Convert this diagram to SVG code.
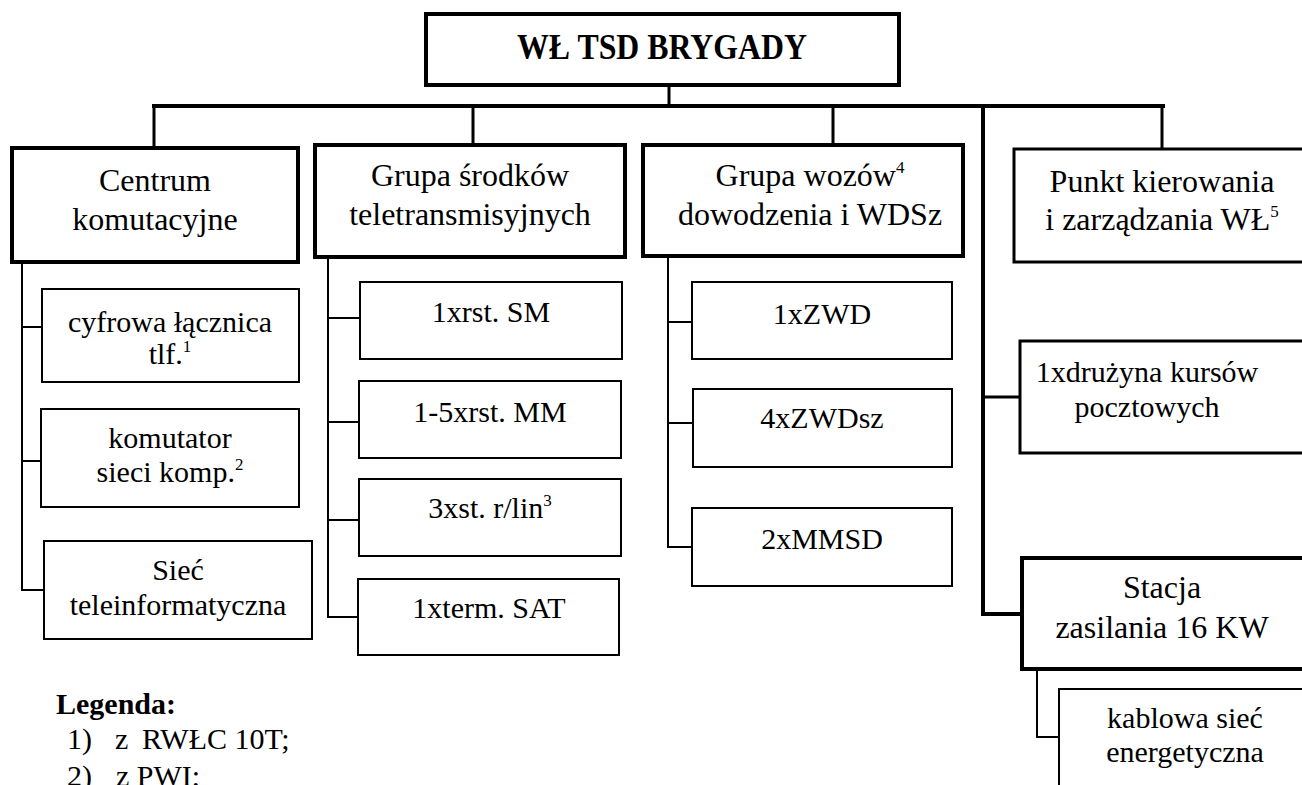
<svg xmlns="http://www.w3.org/2000/svg" width="1302" height="785" viewBox="0 0 1302 785">
<style>
text { font-family: "Liberation Serif", "DejaVu Serif", "Noto Serif", serif; fill: #000; text-anchor: middle; }
.t1 { font-size: 32px; }
.t2 { font-size: 30px; }
.title { font-size: 35px; font-weight: bold; }
.sup { font-size: 17px; }
.leg { text-anchor: start; font-size: 30px; }
.legh { text-anchor: start; font-size: 30px; font-weight: bold; }
.thick { fill: #fff; stroke: #000; stroke-width: 4; }
.mid { fill: #fff; stroke: #000; stroke-width: 3; }
.thin { fill: #fff; stroke: #000; stroke-width: 2; }
</style>
<rect width="1302" height="785" fill="#fff"/>

<g id="connectors" fill="none" stroke="#000" stroke-linecap="square">
  <line x1="669" y1="85" x2="669" y2="106" stroke-width="3"/>
  <line x1="154" y1="106" x2="1163" y2="106" stroke-width="4"/>
  <line x1="154" y1="106" x2="154" y2="148" stroke-width="3"/>
  <line x1="473" y1="106" x2="473" y2="145" stroke-width="3"/>
  <line x1="833" y1="106" x2="833" y2="145" stroke-width="3"/>
  <line x1="1162" y1="106" x2="1162" y2="149" stroke-width="3"/>
  <path d="M983 106 V614 H1022" stroke-width="4"/>
  <line x1="983" y1="397" x2="1020" y2="397" stroke-width="3"/>
  <path d="M22 262 V590 H44 M22 327 H42 M22 461 H41" stroke-width="2"/>
  <path d="M328 257 V617 H358 M328 318 H360 M328 422 H359 M328 520 H359" stroke-width="2"/>
  <path d="M668 256 V547 H692 M668 322 H692 M668 423 H693" stroke-width="2"/>
  <path d="M1037 669 V737 H1059" stroke-width="2"/>
</g>

<g id="root">
  <rect class="thick" x="426" y="14" width="473" height="71"/>
  <text class="title" x="662" y="59" font-family="Liberation Serif, DejaVu Serif, serif" textLength="290" lengthAdjust="spacingAndGlyphs">WŁ TSD BRYGADY</text>
</g>

<g id="centrum">
  <rect class="thick" x="12" y="148" width="286" height="114"/>
  <text class="t1" x="155" y="191">Centrum</text>
  <text class="t1" x="155" y="230">komutacyjne</text>
</g>
<g id="grupa-srodkow">
  <rect class="thick" x="315" y="145" width="310" height="112"/>
  <text class="t1" x="470" y="186">Grupa środków</text>
  <text class="t1" x="470" y="225">teletransmisyjnych</text>
</g>
<g id="grupa-wozow">
  <rect class="thick" x="643" y="145" width="320" height="111"/>
  <text class="t1" x="810" y="186">Grupa wozów<tspan class="sup" dy="-13">4</tspan></text>
  <text class="t1" x="810" y="225">dowodzenia i WDSz</text>
</g>
<g id="punkt">
  <rect class="mid" x="1014" y="149" width="300" height="113"/>
  <text class="t1" x="1162" y="192">Punkt kierowania</text>
  <text class="t1" x="1162" y="230">i zarządzania WŁ<tspan class="sup" dy="-13">5</tspan></text>
</g>

<g id="cyfrowa">
  <rect class="thin" x="42" y="289" width="257" height="93"/>
  <text class="t2" x="170" y="332">cyfrowa łącznica</text>
  <text class="t2" x="170" y="364">tlf.<tspan class="sup" dy="-12">1</tspan></text>
</g>
<g id="komutator">
  <rect class="thin" x="41" y="409" width="258" height="98"/>
  <text class="t2" x="170" y="448">komutator</text>
  <text class="t2" x="170" y="482">sieci komp.<tspan class="sup" dy="-12">2</tspan></text>
</g>
<g id="siec">
  <rect class="thin" x="44" y="541" width="268" height="98"/>
  <text class="t2" x="178" y="580">Sieć</text>
  <text class="t2" x="178" y="615">teleinformatyczna</text>
</g>

<g id="rst-sm">
  <rect class="thin" x="360" y="282" width="262" height="77"/>
  <text class="t2" x="491" y="322">1xrst. SM</text>
</g>
<g id="rst-mm">
  <rect class="thin" x="359" y="381" width="262" height="77"/>
  <text class="t2" x="490" y="422">1-5xrst. MM</text>
</g>
<g id="st-rlin">
  <rect class="thin" x="359" y="479" width="262" height="77"/>
  <text class="t2" x="490" y="518">3xst. r/lin<tspan class="sup" dy="-12">3</tspan></text>
</g>
<g id="term-sat">
  <rect class="thin" x="358" y="579" width="261" height="76"/>
  <text class="t2" x="489" y="618">1xterm. SAT</text>
</g>

<g id="zwd">
  <rect class="thin" x="692" y="282" width="260" height="77"/>
  <text class="t2" x="822" y="324">1xZWD</text>
</g>
<g id="zwdsz">
  <rect class="thin" x="693" y="389" width="259" height="78"/>
  <text class="t2" x="822" y="428">4xZWDsz</text>
</g>
<g id="mmsd">
  <rect class="thin" x="692" y="508" width="260" height="78"/>
  <text class="t2" x="822" y="549">2xMMSD</text>
</g>

<g id="druzyna">
  <rect class="mid" x="1020" y="341" width="300" height="112"/>
  <text class="t2" x="1147" y="382">1xdrużyna kursów</text>
  <text class="t2" x="1147" y="417">pocztowych</text>
</g>
<g id="stacja">
  <rect class="thick" x="1022" y="558" width="300" height="111"/>
  <text class="t1" x="1162" y="598">Stacja</text>
  <text class="t1" x="1162" y="638">zasilania 16 KW</text>
</g>
<g id="kablowa">
  <rect class="thin" x="1059" y="689" width="260" height="110" stroke-width="2.5"/>
  <text class="t2" x="1185" y="728">kablowa sieć</text>
  <text class="t2" x="1185" y="762">energetyczna</text>
</g>

<g id="legenda">
  <text class="legh" x="56" y="714">Legenda:</text>
  <text class="leg" y="749"><tspan x="67">1)</tspan><tspan x="115">z</tspan><tspan x="142">RWŁC 10T;</tspan></text>
  <text class="leg" y="786"><tspan x="67">2)</tspan><tspan x="116">z PWI;</tspan></text>
</g>
</svg>
